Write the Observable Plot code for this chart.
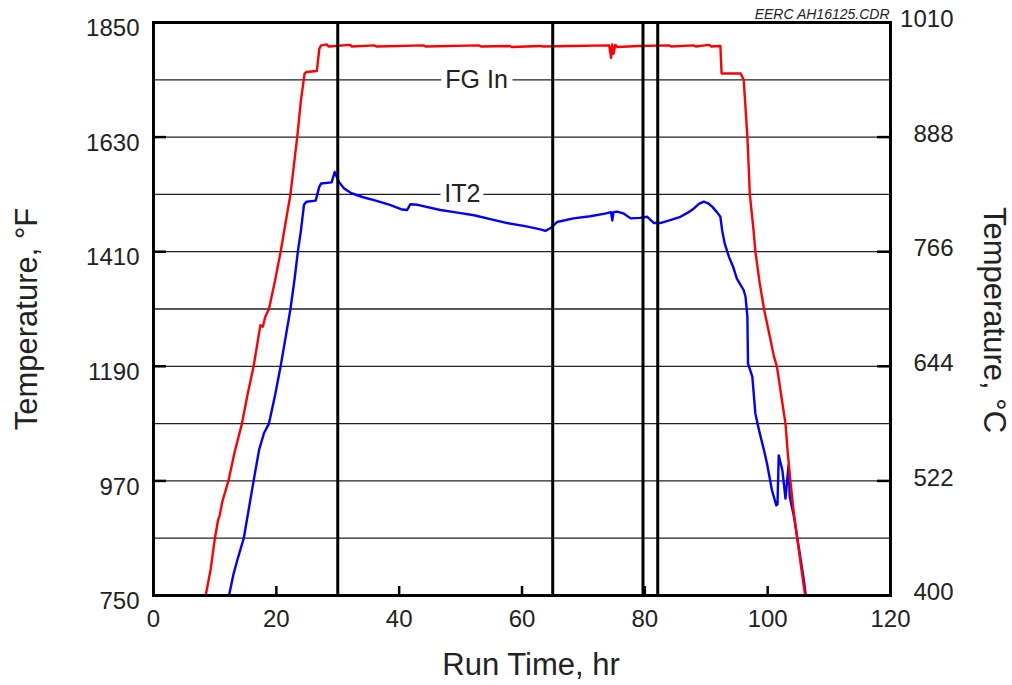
<!DOCTYPE html>
<html><head><meta charset="utf-8">
<script src="https://cdn.jsdelivr.net/npm/d3@7"></script>
<script src="https://cdn.jsdelivr.net/npm/@observablehq/plot@0.6"></script>
<style>body{margin:0;background:#fff}#chart svg{display:block}</style>
</head><body><div id="chart"></div>
<script>
// ---- data ----
const fgInHours = [8.5, 9.3, 10.0, 10.5, 10.8, 11.2, 12.2, 13.2, 14.4, 15.3, 16.3, 17.0, 17.4, 17.8, 18.2, 18.8, 19.8, 20.7, 21.5, 22.3, 23.4, 24.0, 24.6, 24.9, 26.6, 27.0, 27.3, 28.2, 28.5, 32.0, 32.3, 36.0, 36.3, 44.0, 44.3, 53.0, 53.3, 58.0, 58.3, 63.0, 63.3, 68.0, 74.2, 74.5, 74.7, 74.9, 75.2, 75.5, 79.0, 84.0, 84.3, 88.0, 88.3, 90.5, 90.8, 92.3, 92.5, 95.6, 96.1, 96.7, 97.1, 97.7, 98.0, 98.7, 99.4, 100.3, 101.0, 101.5, 102.2, 102.9, 103.3, 103.7, 104.2, 104.8, 105.5, 106.1];
const fgInTempF = [750, 800, 860, 894, 905, 930, 970, 1025, 1080, 1135, 1190, 1240, 1269, 1266, 1285, 1300, 1355, 1410, 1465, 1520, 1630, 1700, 1752, 1755, 1757, 1800, 1806, 1808, 1804, 1807, 1804, 1806, 1804, 1806, 1804, 1806, 1804, 1805, 1803, 1805, 1804, 1805, 1806, 1782, 1808, 1790, 1807, 1803, 1805, 1806, 1804, 1806, 1804, 1807, 1804, 1805, 1752, 1752, 1740, 1630, 1520, 1451, 1410, 1350, 1300, 1250, 1210, 1190, 1135, 1080, 1020, 970, 915, 860, 800, 750];

const it2Hours = [12.3, 13.0, 13.7, 14.7, 15.5, 16.3, 17.2, 18.0, 18.8, 19.8, 20.7, 21.5, 22.3, 23.0, 23.5, 24.0, 24.5, 24.9, 26.4, 27.0, 27.3, 29.0, 29.5, 30.2, 31.0, 32.1, 34.0, 35.9, 38.5, 40.5, 41.3, 41.8, 43.0, 46.7, 49.5, 52.2, 55.0, 57.6, 60.5, 63.0, 63.8, 64.6, 65.7, 68.4, 71.1, 73.5, 74.5, 74.7, 74.9, 75.5, 76.6, 77.7, 79.2, 80.4, 81.0, 81.5, 82.5, 84.0, 85.8, 87.0, 88.0, 88.8, 89.6, 90.3, 91.0, 91.8, 92.3, 92.6, 93.0, 93.7, 94.4, 95.0, 96.1, 96.4, 96.7, 96.8, 97.5, 98.0, 98.6, 99.4, 99.9, 100.7, 101.4, 101.6, 101.8, 102.4, 102.9, 103.4, 103.6, 104.3, 105.1, 105.9, 106.2];
const it2TempF = [750, 790, 820, 860, 915, 970, 1030, 1062, 1080, 1135, 1190, 1245, 1300, 1360, 1410, 1450, 1500, 1506, 1508, 1535, 1541, 1543, 1563, 1544, 1532, 1523, 1515, 1509, 1500, 1491, 1490, 1501, 1500, 1490, 1485, 1480, 1472, 1465, 1459, 1453, 1450, 1455, 1467, 1474, 1478, 1483, 1486, 1470, 1486, 1487, 1483, 1474, 1475, 1477, 1470, 1465, 1465, 1470, 1477, 1485, 1493, 1502, 1506, 1503, 1496, 1485, 1477, 1450, 1426, 1400, 1380, 1358, 1336, 1323, 1285, 1195, 1170, 1099, 1067, 1029, 1003, 952, 923, 925, 1019, 990, 936, 1000, 939, 900, 840, 779, 750];

const eventHours = [30, 65, 79.7, 82.1];
const xTicks = [0, 20, 40, 60, 80, 100, 120];
const yTicksF = [750, 970, 1190, 1410, 1630, 1850];
const yTickLabelsC = ["400", "522", "644", "766", "888", "1010"];
const gridF = [860, 970, 1080, 1190, 1300, 1410, 1520, 1630, 1740];
const seriesNames = ["FG In", "IT2"];
const seriesLabelHours = [52.6, 50.3];
const seriesLabelTempF = [1740, 1520];
const xTitle = "Run Time, hr";
const yLeftTitle = "Temperature, °F";
const yRightTitle = "Temperature, °C";
const note = "EERC AH16125.CDR";

// ---- tables ----
const fgIn = fgInHours.map((h, i) => ({hr: h, F: fgInTempF[i]}));
const it2 = it2Hours.map((h, i) => ({hr: h, F: it2TempF[i]}));
const seriesLabels = seriesNames.map((n, i) => ({name: n, hr: seriesLabelHours[i], F: seriesLabelTempF[i]}));

// ---- layout ----
const W = 1012, H = 685, mL = 153, mR = 122, mT = 22, mB = 90;
const xDomain = [0, 120], yDomain = [750, 1850];
// inward tick lengths (pixels) converted to data units via the frame size
const yTickLenPx = 13, xTickLenPx = 9;
const yTickLen = yTickLenPx * (xDomain[1] - xDomain[0]) / (W - mL - mR);
const xTickLen = xTickLenPx * (yDomain[1] - yDomain[0]) / (H - mT - mB);

const ink = "#222";
const chart = Plot.plot({
  width: W, height: H,
  marginLeft: mL, marginRight: mR, marginTop: mT, marginBottom: mB,
  style: {fontFamily: "'Liberation Sans', Arial, Helvetica, sans-serif", color: ink, background: "white", overflow: "visible"},
  x: {domain: xDomain},
  y: {domain: yDomain},
  marks: [
    Plot.ruleY(gridF, {stroke: ink, strokeWidth: 1.3}),
    Plot.text(seriesLabels, {x: "hr", y: "F", text: "name", fontSize: 25, fill: ink, stroke: "white", strokeWidth: 12, lineAnchor: "middle"}),
    Plot.line(it2, {x: "hr", y: "F", stroke: "#0000ff", strokeWidth: 2.4, clip: true}),
    Plot.line(fgIn, {x: "hr", y: "F", stroke: "#ff0000", strokeWidth: 2.4, clip: true}),
    Plot.ruleX(eventHours, {stroke: "#000", strokeWidth: 3}),
    // inward ticks
    Plot.ruleX(xTicks, {x: d => d, y1: yDomain[0], y2: yDomain[0] + xTickLen, stroke: "#000", strokeWidth: 2.5}),
    Plot.ruleY(yTicksF, {y: d => d, x1: xDomain[0], x2: xDomain[0] + yTickLen, stroke: "#000", strokeWidth: 2.5}),
    Plot.ruleY(yTicksF, {y: d => d, x1: xDomain[1] - yTickLen, x2: xDomain[1], stroke: "#000", strokeWidth: 2.5}),
    Plot.frame({stroke: "#000", strokeWidth: 3}),
    // tick labels
    Plot.axisX({ticks: xTicks, tickSize: 0, tickPadding: 14, fontSize: 24, fill: ink, label: null, tickFormat: d => String(d)}),
    Plot.axisY({anchor: "left", ticks: yTicksF, tickSize: 0, tickPadding: 14, fontSize: 24, fill: ink, dy: 6, label: null, tickFormat: d => String(d)}),
    Plot.axisY({anchor: "right", ticks: yTicksF, tickSize: 0, tickPadding: 63, textAnchor: "end", fontSize: 24, fill: ink, dy: -3, label: null,
      tickFormat: d => yTickLabelsC[yTicksF.indexOf(d)]}),
    // titles
    Plot.text([xTitle], {text: d => d, frameAnchor: "bottom", lineAnchor: "middle", textAnchor: "middle", dx: 9, dy: 70, fontSize: 31, fill: ink}),
    Plot.text([yLeftTitle], {text: d => d, frameAnchor: "left", lineAnchor: "middle", textAnchor: "middle", rotate: -90, dx: -126, dy: 10, fontSize: 31, fill: ink}),
    Plot.text([yRightTitle], {text: d => d, frameAnchor: "right", lineAnchor: "middle", textAnchor: "middle", rotate: 90, dx: 103, dy: 11, fontSize: 31, fill: ink}),
    Plot.text([note], {text: d => d, frameAnchor: "top-right", lineAnchor: "middle", textAnchor: "end", fontStyle: "italic", dx: -1, dy: -8, fontSize: 14, fill: ink})
  ]
});
document.getElementById("chart").appendChild(chart);
</script>
</body></html>
